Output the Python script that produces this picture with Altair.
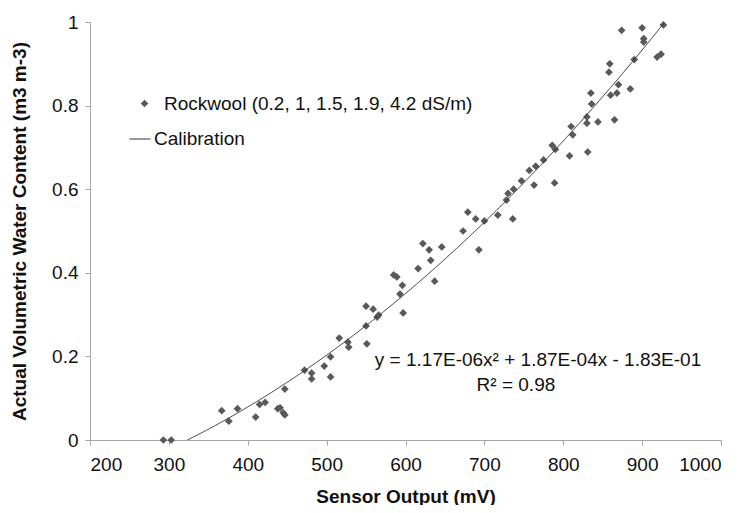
import altair as alt
import pandas as pd

# ---- data ----
sensor_mv = [293, 303, 367, 376, 387, 410, 415, 422, 438, 441, 445, 447, 447,
             472, 481, 481, 497, 505, 505, 516, 527, 528, 550, 550, 551, 559,
             564, 566, 585, 589, 593, 596, 597, 616, 622, 630, 632, 637, 646,
             673, 679, 689, 693, 700, 717, 728, 730, 736, 737, 747, 757, 763,
             765, 775, 786, 789, 790, 808, 810, 812, 830, 830, 831, 835, 836,
             844, 858, 859, 860, 865, 868, 870, 874, 885, 890, 900, 902, 902,
             919, 924, 927]
vwc = [0.0, 0.0, 0.07, 0.045, 0.075, 0.055, 0.085, 0.09, 0.075, 0.077, 0.065,
       0.06, 0.122, 0.167, 0.16, 0.146, 0.177, 0.199, 0.151, 0.244, 0.234,
       0.222, 0.32, 0.273, 0.23, 0.313, 0.294, 0.299, 0.395, 0.39, 0.349,
       0.37, 0.304, 0.41, 0.47, 0.455, 0.43, 0.38, 0.462, 0.5, 0.545, 0.529,
       0.455, 0.524, 0.538, 0.574, 0.59, 0.529, 0.6, 0.62, 0.645, 0.61, 0.655,
       0.67, 0.705, 0.615, 0.695, 0.68, 0.75, 0.73, 0.773, 0.758, 0.689, 0.83,
       0.804, 0.761, 0.88, 0.9, 0.825, 0.766, 0.83, 0.85, 0.98, 0.84, 0.91,
       0.986, 0.952, 0.96, 0.916, 0.923, 0.993]

points_name = "Rockwool (0.2, 1, 1.5, 1.9, 4.2 dS/m)"
line_name = "Calibration"
# calibration printed on the chart: y = a x^2 + b x + c
coef_a, coef_b, coef_c = 1.17e-06, 1.87e-04, -1.83e-01
x_ticks = [200, 300, 400, 500, 600, 700, 800, 900, 1000]
y_ticks = [0, 0.2, 0.4, 0.6, 0.8, 1]
eq_text = ["y = 1.17E-06x² + 1.87E-04x - 1.83E-01", "R² = 0.98"]
eq_x = [768, 740]
eq_y = [0.191, 0.132]

FONT = "Liberation Sans"
FS = 19

df = pd.DataFrame({"mv": sensor_mv, "vwc": vwc})
df["pts"] = points_name
ann = pd.DataFrame({"t": eq_text, "x": eq_x, "y": eq_y})

xs = alt.Scale(domain=[200, 1000], nice=False)
ys = alt.Scale(domain=[0, 1], nice=False)

x_enc = alt.X("mv:Q", scale=xs, axis=alt.Axis(values=x_ticks, title="Sensor Output (mV)", format="d"))
y_enc = alt.Y("vwc:Q", scale=ys, axis=alt.Axis(values=y_ticks, title="Actual Volumetric Water Content (m3 m-3)", format="~g"))

points = alt.Chart(df).mark_point(
    shape="diamond", filled=True, size=60, color="#595959", opacity=1
).encode(
    x=x_enc, y=y_enc,
    shape=alt.Shape("pts:N", scale=alt.Scale(range=["diamond"]),
                    legend=alt.Legend(title=None, orient="none", legendX=45, legendY=72,
                                      symbolSize=60, symbolFillColor="#595959",
                                      symbolStrokeWidth=0, labelOffset=10, padding=0,
                                      labelLimit=0)),
)

line = alt.Chart(alt.sequence(min(sensor_mv), max(sensor_mv) + 1, 1, as_="mv")).transform_calculate(
    vwc=f"{coef_a}*datum.mv*datum.mv + {coef_b}*datum.mv + {coef_c}",
    cal=f"'{line_name}'",
).mark_line(strokeWidth=1, clip=True).encode(
    x=alt.X("mv:Q", scale=xs),
    y=alt.Y("vwc:Q", scale=ys),
    color=alt.Color("cal:N", scale=alt.Scale(range=["#333333"]),
                    legend=alt.Legend(title=None, orient="none", legendX=39, legendY=106,
                                      symbolType="stroke", symbolSize=441,
                                      symbolStrokeWidth=1, labelOffset=3, padding=0,
                                      labelLimit=0)),
)

text = alt.Chart(ann).mark_text(
    font=FONT, fontSize=FS, color="#111111", align="center", baseline="middle"
).encode(
    x=alt.X("x:Q", scale=xs),
    y=alt.Y("y:Q", scale=ys),
    text="t:N",
)

chart = alt.layer(points, line, text).resolve_legend(shape="independent", color="independent").properties(
    width=631, height=418,
    autosize=alt.AutoSizeParams(type="none"),
    padding={"left": 82, "top": 14, "right": 17, "bottom": 65},
    background="white",
).configure_view(stroke=None).configure_axis(
    labelFont=FONT, titleFont=FONT, labelFontSize=FS, titleFontSize=FS,
    labelColor="#111111", titleColor="#111111", titleFontWeight="bold",
    domainColor="#a6a6a6", tickColor="#a6a6a6", tickSize=5, grid=False,
).configure_axisX(labelPadding=10, titlePadding=13).configure_axisY(
    labelPadding=7, titlePadding=22
).configure_legend(labelFont=FONT, labelFontSize=FS, labelColor="#111111")

chart.save("out.html", embed_options={"renderer": "svg", "actions": False})
